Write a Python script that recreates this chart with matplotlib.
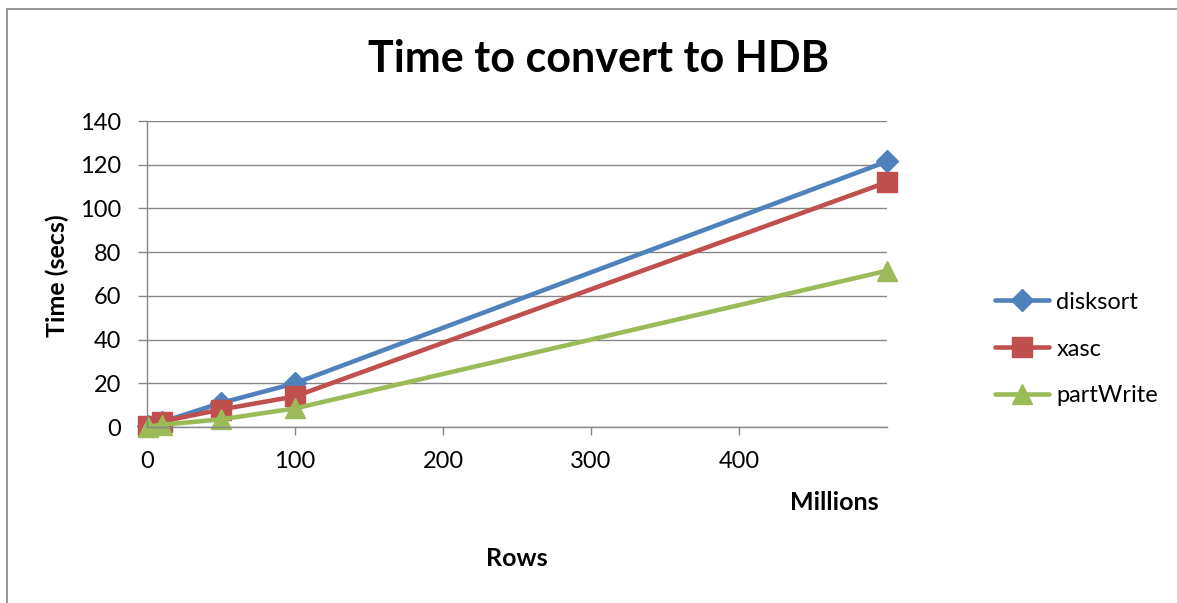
import matplotlib
matplotlib.use('Agg')
import matplotlib.pyplot as plt
from matplotlib.patches import Rectangle

plt.rcParams['font.family'] = ['Lato', 'DejaVu Sans']

# rows in millions
rows = [1, 10, 50, 100, 500]
disksort = [0.5, 2.3, 11, 20, 121.5]
xasc = [0.3, 2.5, 8, 14, 112]
partWrite = [0.2, 1, 3.5, 8.5, 71.5]

series = [
    ('disksort', disksort, '#4F81BD', 'D', 11.5),
    ('xasc', xasc, '#C0504D', 's', 14),
    ('partWrite', partWrite, '#9BBB59', '^', 14.5),
]

grid_col = '#868686'

fig = plt.figure(figsize=(11.77, 6.03), dpi=100)
ax = fig.add_axes([147 / 1177, 176 / 603, 740 / 1177, 306 / 603])

for name, vals, col, mk, ms in series:
    ax.plot(rows, vals, color=col, lw=3.3, marker=mk, markersize=ms,
            label=name, clip_on=False, solid_capstyle='round')

ax.set_xlim(0, 500)
ax.set_ylim(0, 140)
ax.set_xticks([0, 100, 200, 300, 400])
ax.set_yticks(range(0, 141, 20))
ax.grid(axis='y', color=grid_col, lw=1)
ax.set_axisbelow(True)

for s in ['top', 'right']:
    ax.spines[s].set_visible(False)
for s in ['left', 'bottom']:
    ax.spines[s].set_color(grid_col)
    ax.spines[s].set_linewidth(1)

ax.tick_params(axis='y', length=6.5, width=1, color=grid_col, pad=12,
               labelsize=17)
ax.tick_params(axis='x', length=6, width=1, color=grid_col, pad=11,
               labelsize=17)

fig.text(599 / 1177, 1 - 59 / 603, 'Time to convert to HDB', ha='center',
         va='center', fontsize=31, fontweight='bold')
fig.text(57 / 1177, 1 - 276 / 603, 'Time (secs)', rotation=90, ha='center',
         va='center', fontsize=18, fontweight='bold')
fig.text(517 / 1177, 1 - 559 / 603, 'Rows', ha='center', va='center',
         fontsize=18, fontweight='bold')
fig.text(879 / 1177, 1 - 502 / 603, 'Millions', ha='right', va='center',
         fontsize=18, fontweight='bold')

fig.legend(loc='center left', bbox_to_anchor=(995 / 1177, 1 - 349 / 603),
           frameon=False, fontsize=17, handlelength=2.3, handletextpad=0.3,
           labelspacing=1.1, borderpad=0, borderaxespad=0)

# outer chart border
fig.patches.append(Rectangle((7 / 1177, -0.1), 2, 1.1 - 9 / 603,
                             transform=fig.transFigure, fill=False,
                             edgecolor=grid_col, lw=1.2))

fig.savefig('out.png', dpi=100)
